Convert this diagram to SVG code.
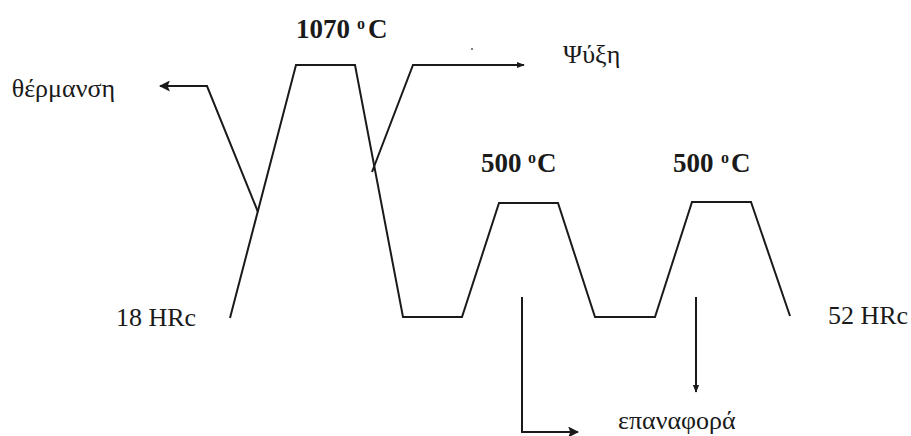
<svg xmlns="http://www.w3.org/2000/svg" width="911" height="436" viewBox="0 0 911 436">
<defs>
<style>
.ln{fill:none;stroke:#1a1a1a;stroke-width:2;stroke-linejoin:miter}
.t{font-family:"Liberation Serif","Times New Roman",serif;fill:#1a1a1a;font-size:26px}
.b{font-family:"Liberation Serif","Times New Roman",serif;fill:#1a1a1a;font-size:27px;font-weight:bold}
.sup{font-size:16px}
</style>
<marker id="ah" viewBox="0 0 10 10" refX="9" refY="5" markerWidth="5.5" markerHeight="5.5" orient="auto" markerUnits="strokeWidth">
<path d="M0,0 L10,5 L0,10 L2,5 z" fill="#1a1a1a"/>
</marker>
<marker id="ahs" viewBox="0 0 10 10" refX="9" refY="5" markerWidth="4" markerHeight="4" orient="auto" markerUnits="strokeWidth">
<path d="M0,1 L10,5 L0,9 z" fill="#1a1a1a"/>
</marker>
</defs>
<rect width="911" height="436" fill="#ffffff"/>
<g id="cycle">
<polyline class="ln" points="230,318 296,65 355,65 403,317 462,317 499,203 558,203 595,317 655,317 692,202 751,202 790,316"/>
</g>
<g id="connectors">
<polyline class="ln" points="258,212 207,86 160,86" marker-end="url(#ah)"/>
<polyline class="ln" points="372,172 413,65 524,65" marker-end="url(#ahs)"/>
<polyline class="ln" points="522,297 522,432 578,432" marker-end="url(#ah)"/>
<line class="ln" x1="696" y1="297" x2="696" y2="392" marker-end="url(#ahs)"/>
</g>
<g id="labels">
<text class="b" y="38"><tspan x="296">1070</tspan><tspan class="sup" x="357" y="29">o</tspan><tspan x="368" y="38">C</tspan></text>
<text class="b" y="172"><tspan x="481">500</tspan><tspan class="sup" x="528" y="163">o</tspan><tspan x="537" y="172">C</tspan></text>
<text class="b" y="172"><tspan x="673">500</tspan><tspan class="sup" x="721" y="163">o</tspan><tspan x="731" y="172">C</tspan></text>
<text class="t" x="115" y="97" text-anchor="end">θέρμανση</text>
<text class="t" x="563" y="63">Ψύξη</text>
<text class="t" x="116" y="326">18 HRc</text>
<text class="t" x="828" y="324">52 HRc</text>
<text class="t" x="618" y="429">επαναφορά</text>
<circle cx="472" cy="49" r="1" fill="#555"/>
</g>
</svg>
